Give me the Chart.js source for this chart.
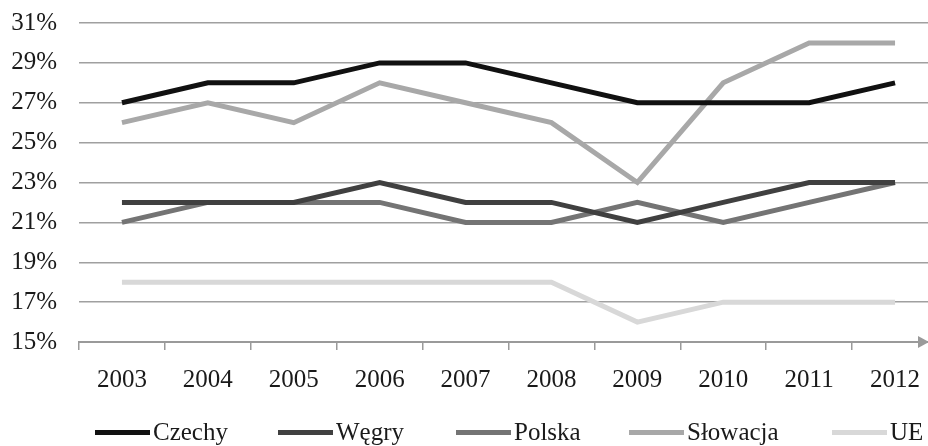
<!DOCTYPE html>
<html>
<head>
<meta charset="utf-8">
<script src="https://cdn.jsdelivr.net/npm/chart.js@4/dist/chart.umd.min.js"></script>
<style>
  html, body { margin: 0; padding: 0; background: #fff; overflow: hidden; width: 928px; height: 446px; }
  #wrap { position: absolute; left: 0; top: 0; width: 938px; height: 446px; }
  #legend { position: absolute; left: 0; top: 0; width: 928px; height: 446px; pointer-events: none;
            font-family: "Liberation Serif", "Times New Roman", serif; font-size: 25px; color: #1a1a1a; }
  .item { position: absolute; top: 417px; height: 30px; display: flex; align-items: center; white-space: nowrap; }
  .swatch { width: 55px; height: 5px; margin-right: 3px; }
</style>
</head>
<body>
<div id="wrap"><canvas id="c"></canvas></div>
<div id="legend"></div>
<script>
const years = ['2003','2004','2005','2006','2007','2008','2009','2010','2011','2012'];
const czechy   = [27, 28, 28, 29, 29, 28, 27, 27, 27, 28];
const wegry    = [22, 22, 22, 23, 22, 22, 21, 22, 23, 23];
const polska   = [21, 22, 22, 22, 21, 21, 22, 21, 22, 23];
const slowacja = [26, 27, 26, 28, 27, 26, 23, 28, 30, 30];
const ue       = [18, 18, 18, 18, 18, 18, 16, 17, 17, 17];
const seriesNames = ['Czechy', 'Węgry', 'Polska', 'Słowacja', 'UE'];
const seriesColors = ['#111111', '#404040', '#747474', '#a8a8a8', '#d8d8d8'];
const yMin = 15, yMax = 31, yStep = 2;

const seriesData = [czechy, wegry, polska, slowacja, ue];
const FONT = '"Liberation Serif", "Times New Roman", serif';

const arrowPlugin = {
  id: 'arrow',
  afterDraw(chart) {
    const ctx = chart.ctx;
    const y = chart.chartArea.bottom;
    ctx.save();
    ctx.fillStyle = '#9a9a9a';
    ctx.beginPath();
    ctx.moveTo(918, y - 6);
    ctx.lineTo(929, y);
    ctx.lineTo(918, y + 6);
    ctx.closePath();
    ctx.fill();
    ctx.restore();
  }
};

new Chart(document.getElementById('c'), {
  type: 'line',
  data: {
    labels: years,
    datasets: seriesNames.map((n, i) => ({
      label: n,
      data: seriesData[i],
      borderColor: seriesColors[i],
      backgroundColor: seriesColors[i],
      borderWidth: 5,
      pointRadius: 0,
      tension: 0,
      fill: false,
      borderJoinStyle: 'miter'
    }))
  },
  options: {
    responsive: true,
    maintainAspectRatio: false,
    animation: false,
    layout: { padding: { top: 23, left: 0, right: 0, bottom: 0 } },
    plugins: { legend: { display: false }, tooltip: { enabled: false } },
    scales: {
      x: {
        offset: true,
        grid: { offset: true, drawOnChartArea: false, drawTicks: true, tickLength: 8, color: '#9a9a9a', lineWidth: 1.5 },
        border: { display: true, color: '#9a9a9a', width: 2 },
        ticks: { font: { family: FONT, size: 25 }, color: '#1a1a1a', padding: 15, maxRotation: 0 },
        afterFit(s) { s.height = 104; s.paddingLeft = 0; s.paddingRight = 0; }
      },
      y: {
        min: yMin, max: yMax,
        grid: { drawTicks: false, color: '#a0a0a0', lineWidth: 1.5 },
        border: { display: false },
        ticks: { stepSize: yStep, font: { family: FONT, size: 25 }, color: '#1a1a1a', padding: 22,
                 callback: v => v + '%' },
        afterFit(s) { s.width = 79; s.paddingTop = 0; s.paddingBottom = 0; }
      }
    }
  },
  plugins: [arrowPlugin]
});

// legend (HTML text)
const legendX = [95, 278, 456, 629, 832];
const legend = document.getElementById('legend');
seriesNames.forEach((n, i) => {
  const it = document.createElement('div');
  it.className = 'item';
  it.style.left = legendX[i] + 'px';
  const sw = document.createElement('div');
  sw.className = 'swatch';
  sw.style.background = seriesColors[i];
  const tx = document.createElement('span');
  tx.textContent = n;
  it.appendChild(sw); it.appendChild(tx);
  legend.appendChild(it);
});
</script>
</body>
</html>
